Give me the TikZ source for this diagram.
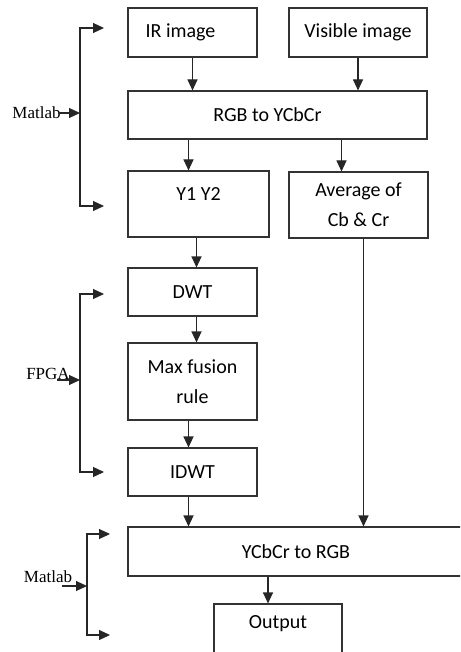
\documentclass[tikz,border=0pt]{standalone}
\usepackage{fontspec}
\setmainfont{Carlito}
\newfontfamily\tnrfont{Liberation Serif}
\usetikzlibrary{arrows.meta}

\begin{document}
\begin{tikzpicture}[x=1pt,y=-1pt,
  blk/.style={draw=black!80,line width=1.1pt,font=\fontsize{20}{30}\selectfont,align=center,inner sep=0pt},
  lbl/.style={font=\fontsize{20}{30}\selectfont,inner sep=0pt},
  arr/.style={draw=black!85,line width=1.1pt,-{Triangle[width=10pt,length=11pt]}},
  tool/.style={font=\tnrfont\fontsize{17}{20}\selectfont,inner sep=0pt}]
\useasboundingbox (0,0) rectangle (460,652);
\clip (0,0) rectangle (460,652);
% blocks
\node[blk,minimum width=129,minimum height=49,label={[lbl,xshift=-12]center:IR image}] (ir) at (192.5,32.5) {};
\node[blk,minimum width=138,minimum height=49] (vis) at (358,32.5) {Visible image};
\node[blk,minimum width=299,minimum height=48,label={[lbl,xshift=-10]center:RGB to YCbCr}] (rgb) at (277.5,115) {};
\node[blk,minimum width=141,minimum height=66,label={[lbl,yshift=10]center:Y1 Y2}] (y12) at (198.5,204) {};
\node[blk,minimum width=139,minimum height=66] (avg) at (358.5,205) {Average of\\Cb \& Cr};
\node[blk,minimum width=129,minimum height=48] (dwt) at (192.5,292) {DWT};
\node[blk,minimum width=129,minimum height=77] (max) at (192.5,381.5) {Max fusion\\rule};
\node[blk,minimum width=129,minimum height=48] (idwt) at (192.5,472) {IDWT};
\node[blk,minimum width=336,minimum height=49] (ycc) at (296,551.5) {YCbCr to RGB};
\node[blk,minimum width=128,minimum height=64,label={[lbl,yshift=12]center:Output}] (out) at (278,636) {};
% flow
\draw[arr] (ir.south) -- (ir.south |- rgb.north);
\draw[arr] (vis.south) -- (vis.south |- rgb.north);
\draw[arr] ([xshift=-4]ir.south |- rgb.south) -- ([xshift=-4]ir.south |- y12.north);
\draw[arr] ([xshift=-17]avg.north |- rgb.south) -- ([xshift=-17]avg.north);
\draw[arr] ([xshift=4]dwt.north |- y12.south) -- ([xshift=4]dwt.north);
\draw[arr] ([xshift=4]dwt.south) -- ([xshift=4]max.north);
\draw[arr] ([xshift=-4]max.south) -- ([xshift=-4]idwt.north);
\draw[arr] ([xshift=-4]idwt.south) -- ([xshift=-4]idwt.south |- ycc.north);
\draw[arr] ([xshift=5]avg.south) -- ([xshift=5]avg.south |- ycc.north);
\draw[arr] ([xshift=-10]out.north |- ycc.south) -- ([xshift=-10]out.north);
% tools
\node[tool] (mat1) at (36.5,113) {Matlab};
\coordinate (b1) at (80,113);
\coordinate (b1t) at (104,28);
\coordinate (b1b) at (104,206);
\draw[arr] ([xshift=-3]mat1.east |- b1) -- (b1);
\draw[arr] (b1) |- (b1t);
\draw[arr] (b1) |- (b1b);
\node[tool] (fpga) at (48,374) {FPGA};
\coordinate (b2) at (80,380);
\coordinate (b2t) at (104,294);
\coordinate (b2b) at (104,472);
\draw[arr] ([xshift=-13]fpga.east |- b2) -- (b2);
\draw[arr] (b2) |- (b2t);
\draw[arr] (b2) |- (b2b);
\node[tool] (mat3) at (48,577) {Matlab};
\coordinate (b3) at (87,586);
\coordinate (b3t) at (110,534);
\coordinate (b3b) at (110,635);
\draw[arr] ([xshift=-10]mat3.east |- b3) -- (b3);
\draw[arr] (b3) |- (b3t);
\draw[arr] (b3) |- (b3b);
\end{tikzpicture}
\end{document}
